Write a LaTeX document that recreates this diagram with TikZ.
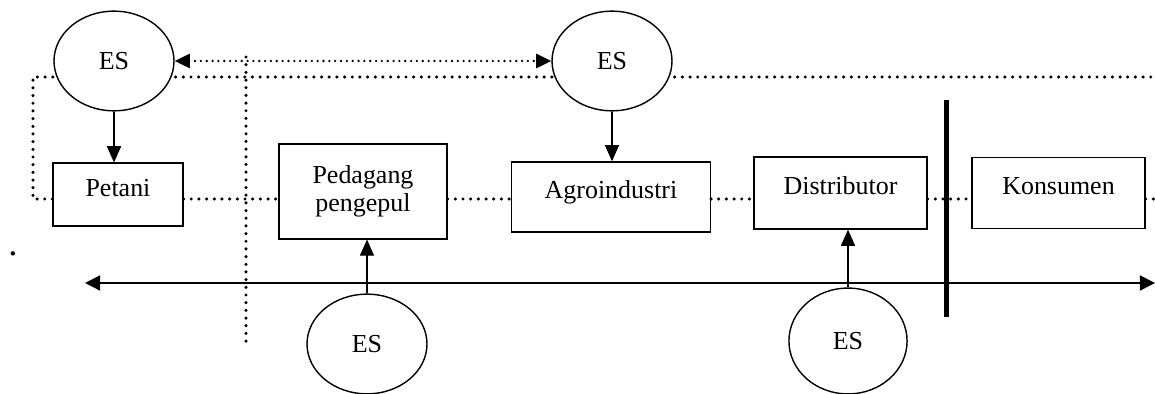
\documentclass[tikz,border=0pt]{standalone}
\usepackage{fontspec}
\setmainfont{Liberation Serif}
\usetikzlibrary{shapes.geometric,arrows.meta,backgrounds}

\tikzset{
  es/.style={ellipse, draw, fill=white, line width=0.65pt, minimum width=1.95cm, minimum height=1.62cm, inner sep=0pt},
  actor/.style={rectangle, draw, fill=white, line width=0.6pt},
  oneline/.style={text height=9pt, text depth=7.2pt},
  flow/.style={line width=1.6pt, dash pattern=on 0pt off 3.55pt, line cap=round},
  link/.style={line width=1.2pt, dash pattern=on 0pt off 2.7pt, line cap=round},
  feed/.style={-{Triangle[length=7.5pt,width=6.5pt]}, line width=0.65pt},
}

\begin{document}
\begin{tikzpicture}[x=0.01625cm, y=-0.01625cm, font=\fontsize{12}{13}\selectfont]
  \useasboundingbox (0,0) rectangle (1155,394);

  % Entitas sosial
  \node[es] (esfarm) at (114,61) {ES};
  \node[es] (esagro) at (612,61) {ES};
  \node[es] (estrade) at (367,344) {ES};
  \node[es, minimum width=1.92cm, minimum height=1.72cm] (esdist) at (848,341) {ES};

  % Pelaku rantai pasok
  \node[actor, oneline, minimum width=2.11cm, minimum height=1.02cm] (petani) at (118,194.5) {Petani};
  \node[actor, align=center, minimum width=2.73cm, minimum height=1.54cm] (pedagang) at (363,191.5) {Pedagang\\pengepul};
  \node[actor, oneline, minimum width=3.23cm, minimum height=1.14cm] (agro) at (611,197) {Agroindustri};
  \node[actor, oneline, minimum width=2.81cm, minimum height=1.17cm] (distributor) at (840.5,193) {Distributor};
  \node[actor, oneline, minimum width=2.81cm, minimum height=1.15cm] (konsumen) at (1058.5,193) {Konsumen};

  \node[font=\fontsize{17}{17}\selectfont] (stray) at (13,254) {.};

  % Titik bantu
  \coordinate (chainy) at (0,199);
  \coordinate (loopcorner) at (33,199);
  \coordinate (topright) at (1155,77);
  \coordinate (chainright) at (1155,199);
  \coordinate (divtop) at (246,57);
  \coordinate (divbot) at (246,347);
  \coordinate (axisleft) at (85,283);
  \coordinate (axisright) at (1155,283);
  \coordinate (bartop) at (946,100);
  \coordinate (barbot) at (946,317);

  % Garis putus-putus
  \begin{pgfonlayer}{background}
    \draw[flow] (petani.west |- chainy) -- (loopcorner) |- (topright);
  \end{pgfonlayer}
  \draw[flow] (petani.east |- chainy) -- (pedagang.west |- chainy);
  \draw[flow] (pedagang.east |- chainy) -- (agro.west |- chainy);
  \draw[flow] (agro.east |- chainy) -- (distributor.west |- chainy);
  \draw[flow] (distributor.east |- chainy) -- (konsumen.west |- chainy);
  \draw[flow] (konsumen.east |- chainy) -- (chainright);
  \draw[flow] (divtop) -- (divbot);
  \draw[link, {Triangle[length=7pt,width=6.5pt]}-{Triangle[length=7pt,width=6.5pt]}] (esfarm.east) -- (esagro.west);

  % Panah
  \draw[feed] (esfarm.south) -- (esfarm.south |- petani.north);
  \draw[feed] (esagro.south) -- (esagro.south |- agro.north);
  \draw[feed] (estrade.north) -- (estrade.north |- pedagang.south);
  \draw[feed] (esdist.north) -- (esdist.north |- distributor.south);
  \draw[line width=0.65pt, {Triangle[length=7pt,width=7pt]}-{Triangle[length=7pt,width=7pt]}] (axisleft) -- (axisright);
  \draw[line width=2.3pt] (bartop) -- (barbot);
\end{tikzpicture}
\end{document}
